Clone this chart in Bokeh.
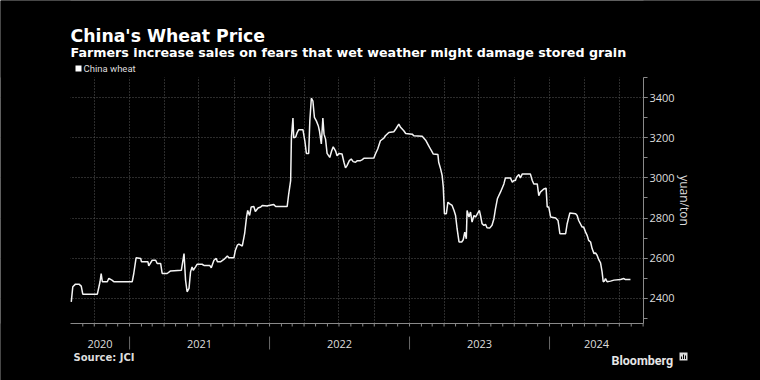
import pandas as pd
from bokeh.plotting import figure
from bokeh.models import Range1d, FixedTicker, SingleIntervalTicker
from bokeh.core.properties import value
from bokeh.embed import file_html
from bokeh.resources import INLINE

# ---------------- data ----------------
dates = [
    "2020-08-02", "2020-08-06", "2020-08-13", "2020-08-22", "2020-08-28", "2020-09-01",
    "2020-10-09", "2020-10-16", "2020-10-19", "2020-10-22", "2020-11-04", "2020-11-08",
    "2020-11-17", "2020-11-21", "2021-01-08", "2021-01-12", "2021-01-18", "2021-01-30",
    "2021-02-01", "2021-02-18", "2021-02-20", "2021-03-01", "2021-03-10", "2021-03-14",
    "2021-03-23", "2021-03-27", "2021-04-09", "2021-04-18", "2021-05-16", "2021-05-23",
    "2021-05-27", "2021-05-31", "2021-06-05", "2021-06-09", "2021-06-13", "2021-06-16",
    "2021-06-22", "2021-06-26", "2021-07-09", "2021-07-14", "2021-07-29", "2021-08-02",
    "2021-08-09", "2021-08-15", "2021-08-18", "2021-08-26", "2021-09-04", "2021-09-13",
    "2021-09-17", "2021-09-30", "2021-10-04", "2021-10-09", "2021-10-13", "2021-10-22",
    "2021-10-28", "2021-11-02", "2021-11-05", "2021-11-10", "2021-11-14", "2021-11-21",
    "2021-11-25", "2021-12-02", "2021-12-09", "2021-12-13", "2021-12-26", "2021-12-30",
    "2022-01-12", "2022-01-17", "2022-02-16", "2022-02-20", "2022-02-25", "2022-02-27",
    "2022-03-03", "2022-03-05", "2022-03-10", "2022-03-14", "2022-03-18", "2022-03-29",
    "2022-04-03", "2022-04-07", "2022-04-13", "2022-04-16", "2022-04-20", "2022-04-24",
    "2022-04-28", "2022-05-03", "2022-05-08", "2022-05-11", "2022-05-16", "2022-05-20",
    "2022-05-23", "2022-05-27", "2022-05-31", "2022-06-07", "2022-06-12", "2022-06-16",
    "2022-06-22", "2022-06-26", "2022-07-01", "2022-07-09", "2022-07-14", "2022-07-18",
    "2022-07-22", "2022-07-28", "2022-08-02", "2022-08-07", "2022-08-13", "2022-08-18",
    "2022-08-26", "2022-08-31", "2022-09-04", "2022-09-30", "2022-10-04", "2022-10-10",
    "2022-10-17", "2022-10-26", "2022-10-30", "2022-11-08", "2022-11-21", "2022-11-27",
    "2022-12-04", "2022-12-08", "2022-12-17", "2022-12-22", "2023-01-08", "2023-01-12",
    "2023-02-03", "2023-02-12", "2023-02-20", "2023-02-26", "2023-03-04", "2023-03-16",
    "2023-03-18", "2023-03-23", "2023-03-27", "2023-03-30", "2023-04-02", "2023-04-07",
    "2023-04-11", "2023-04-16", "2023-04-22", "2023-04-27", "2023-05-01", "2023-05-05",
    "2023-05-10", "2023-05-17", "2023-05-21", "2023-05-25", "2023-05-29", "2023-05-31",
    "2023-06-05", "2023-06-09", "2023-06-13", "2023-06-18", "2023-06-22", "2023-06-28",
    "2023-07-02", "2023-07-05", "2023-07-09", "2023-07-14", "2023-07-18", "2023-07-22",
    "2023-07-29", "2023-08-04", "2023-08-09", "2023-08-13", "2023-08-18", "2023-08-26",
    "2023-09-04", "2023-09-08", "2023-09-21", "2023-09-26", "2023-09-30", "2023-10-04",
    "2023-10-07", "2023-10-13", "2023-10-17", "2023-10-22", "2023-11-12", "2023-11-17",
    "2023-11-21", "2023-11-30", "2023-12-04", "2023-12-08", "2023-12-17", "2023-12-23",
    "2023-12-26", "2023-12-30", "2024-01-04", "2024-01-17", "2024-01-23", "2024-01-25",
    "2024-01-28", "2024-02-12", "2024-02-16", "2024-02-23", "2024-03-09", "2024-03-13",
    "2024-03-17", "2024-03-26", "2024-03-30", "2024-04-04", "2024-04-08", "2024-04-12",
    "2024-04-17", "2024-04-21", "2024-04-26", "2024-04-30", "2024-05-04", "2024-05-09",
    "2024-05-13", "2024-05-17", "2024-05-20", "2024-05-23", "2024-05-26", "2024-05-30",
    "2024-06-08", "2024-06-17", "2024-07-04", "2024-07-13", "2024-07-17", "2024-07-30",
]
price = [
    2383, 2458, 2471, 2471, 2461, 2421,
    2421, 2483, 2524, 2483, 2483, 2500,
    2490, 2483, 2483, 2524, 2602, 2599,
    2582, 2582, 2562, 2590, 2590, 2574,
    2574, 2524, 2524, 2537, 2540, 2623,
    2491, 2433, 2450, 2532, 2557, 2540,
    2557, 2570, 2570, 2564, 2564, 2552,
    2590, 2599, 2582, 2582, 2594, 2611,
    2602, 2602, 2640, 2665, 2670, 2661,
    2722, 2805, 2838, 2813, 2855, 2858,
    2833, 2850, 2855, 2863, 2860, 2863,
    2868, 2858, 2858, 2921, 2987, 3202,
    3298, 3200, 3203, 3226, 3240, 3240,
    3185, 3122, 3122, 3284, 3397, 3383,
    3301, 3284, 3260, 3235, 3169, 3298,
    3218, 3193, 3122, 3102, 3135, 3155,
    3135, 3110, 3122, 3119, 3078, 3050,
    3061, 3086, 3094, 3081, 3078, 3086,
    3086, 3091, 3098, 3099, 3119, 3144,
    3185, 3198, 3210, 3226, 3230, 3246,
    3268, 3254, 3235, 3221, 3218, 3210,
    3207, 3188, 3160, 3139, 3119, 3116,
    3078, 3045, 3012, 2954, 2822, 2822,
    2879, 2871, 2863, 2838, 2813, 2747,
    2681, 2681, 2692, 2730, 2697, 2838,
    2805, 2830, 2780, 2813, 2805, 2825,
    2838, 2813, 2772, 2764, 2769, 2752,
    2750, 2764, 2797, 2846, 2896, 2929,
    2970, 3000, 3000, 2978, 2987, 2987,
    3003, 3017, 3000, 3020, 3020, 2987,
    2970, 2970, 2912, 2929, 2945, 2949,
    2855, 2855, 2805, 2800, 2788, 2764,
    2722, 2722, 2772, 2825, 2822, 2813,
    2788, 2755, 2755, 2730, 2714, 2689,
    2681, 2648, 2623, 2626, 2615, 2590,
    2577, 2532, 2483, 2486, 2499, 2483,
    2486, 2491, 2494, 2499, 2494, 2494,
]
year_labels = ["2020", "2021", "2022", "2023", "2024"]
series_name = "China wheat"
y_label = "yuan/ton"
title_text = "China's Wheat Price"
subtitle_text = "Farmers increase sales on fears that wet weather might damage stored grain"
source_text = "Source: JCI"
brand_text = "Bloomberg"

# ---------------- layout / styling ----------------
FONT = "Open Sans"
HEAD = "DejaVu Sans"
BRAND = "Roboto"
BG = "#000000"
AX = "#8a8a8a"
GRID = "#595959"
TXT = "#dddddd"
W, H = 760, 380
PL, PR, PT, PB = 70, 643, 77, 323          # plot area in page pixels

x_start = pd.Timestamp("2020-07-31")
x_end = pd.Timestamp("2024-09-02")
y_top, y_bot = 3500, 2275

ms0 = x_start.value / 1e6
ms1 = x_end.value / 1e6
mpp = (ms1 - ms0) / (PR - PL)
upp = (y_top - y_bot) / (PB - PT)

p = figure(width=W, height=H, x_axis_type="datetime", x_axis_location=None,
           y_axis_location="right",
           x_range=Range1d(ms0 - PL * mpp, ms0 + (W - PL) * mpp),
           y_range=Range1d(y_bot - (H - PB) * upp, y_top + PT * upp),
           output_backend="svg", toolbar_location=None,
           min_border=0, min_border_left=0, min_border_right=0,
           min_border_top=0, min_border_bottom=0,
           background_fill_color=BG, border_fill_color=BG, outline_line_color=None)
p.extra_x_ranges = {"px": Range1d(0, W)}
p.extra_y_ranges = {"px": Range1d(H, 0)}

# grids (quarterly verticals, 200-step horizontals)
quarters = pd.date_range("2020-10-01", "2024-07-01", freq="QS")
p.xgrid.ticker = FixedTicker(ticks=list(quarters.astype("int64") // 10**6))
for g in (p.xgrid, p.ygrid):
    g.grid_line_color = GRID
    g.grid_line_dash = "1 2"
    g.grid_line_width = 1

# masks around the plot area hide grid lines outside it
mask = dict(x_range_name="px", y_range_name="px", fill_color=BG, line_color=None)
p.quad(left=[0, PR, 0, 0], right=[PL, W, W, W], top=[0, 0, 0, PB], bottom=[H, H, PT, H], **mask)

# right value axis, pinned at the right edge of the plot area
yax = p.yaxis[0]
yax.fixed_location = ms1
yax.ticker = SingleIntervalTicker(interval=200, num_minor_ticks=2)
yax.bounds = (y_bot, y_top)
yax.axis_line_color = AX
yax.major_tick_line_color = AX
yax.minor_tick_line_color = AX
yax.major_tick_out = 4
yax.major_tick_in = 0
yax.minor_tick_out = 4
yax.minor_tick_in = 0
yax.major_label_standoff = 2
yax.major_label_text_color = TXT
yax.major_label_text_font = FONT
yax.major_label_text_font_size = "11px"
yax.axis_label = y_label
yax.axis_label_text_font = FONT
yax.axis_label_text_font_size = "12px"
yax.axis_label_text_font_style = "normal"
yax.axis_label_text_color = TXT
yax.axis_label_standoff = -2

# time axis: baseline, monthly ticks, year separators and labels
p.segment(x0=[x_start], x1=[x_end], y0=[PB], y1=[PB], y_range_name="px",
          line_color=AX, line_width=1)
months = pd.date_range("2020-09-01", "2024-09-01", freq="MS")
p.segment(x0=months, y0=PB, x1=months, y1=PB + 3, y_range_name="px",
          line_color=AX, line_width=1)
year_starts = [pd.Timestamp(f"{y}-01-01") for y in year_labels[1:]]
p.segment(x0=year_starts, y0=336, x1=year_starts, y1=349, y_range_name="px",
          line_color="#6a6a6a", line_width=1)
edges = [x_start] + year_starts + [x_end]
mids = [edges[i] + (edges[i + 1] - edges[i]) / 2 for i in range(len(year_labels))]
p.text(x=mids, y=[343] * len(mids), text=year_labels, y_range_name="px",
       text_align="center", text_baseline="middle", text_font=value(FONT),
       text_font_size="11px", text_color=TXT)

# the series
p.line(pd.to_datetime(dates), price, line_color="#f4f4f4", line_width=1.5)

# header, legend, footer
def txt(x, y, text, size, style="normal", color=TXT, baseline="middle", font=FONT):
    p.text(x=[x], y=[y], text=[text], x_range_name="px", y_range_name="px",
           text_font=value(font), text_font_size=size, text_font_style=style,
           text_color=color, text_baseline=baseline, text_align="left")

txt(70, 35, title_text, "17.3px", "bold", "#ffffff", baseline="alphabetic", font=HEAD)
txt(70, 52, subtitle_text, "12.7px", "bold", "#ffffff", baseline="alphabetic", font=HEAD)
p.quad(left=[75], right=[81], top=[65], bottom=[71], x_range_name="px", y_range_name="px",
       fill_color="#ffffff", line_color=None)
txt(83, 68, series_name, "9.5px", font=BRAND)
txt(73, 357, source_text, "10px", "bold", font=HEAD)
txt(611, 360, brand_text, "12.5px", "bold", "#e6e6e6", baseline="alphabetic", font=BRAND)
# small brand mark
p.quad(left=[679], right=[687], top=[352], bottom=[360], x_range_name="px", y_range_name="px",
       fill_color="#dddddd", line_color=None)
p.quad(left=[680.5, 682.5, 684.5], right=[681.5, 683.5, 685.5], top=[356, 354, 355],
       bottom=[358.5, 358.5, 358.5], x_range_name="px", y_range_name="px",
       fill_color="#000000", line_color=None)

open("out.html", "w").write(file_html(p, INLINE))
